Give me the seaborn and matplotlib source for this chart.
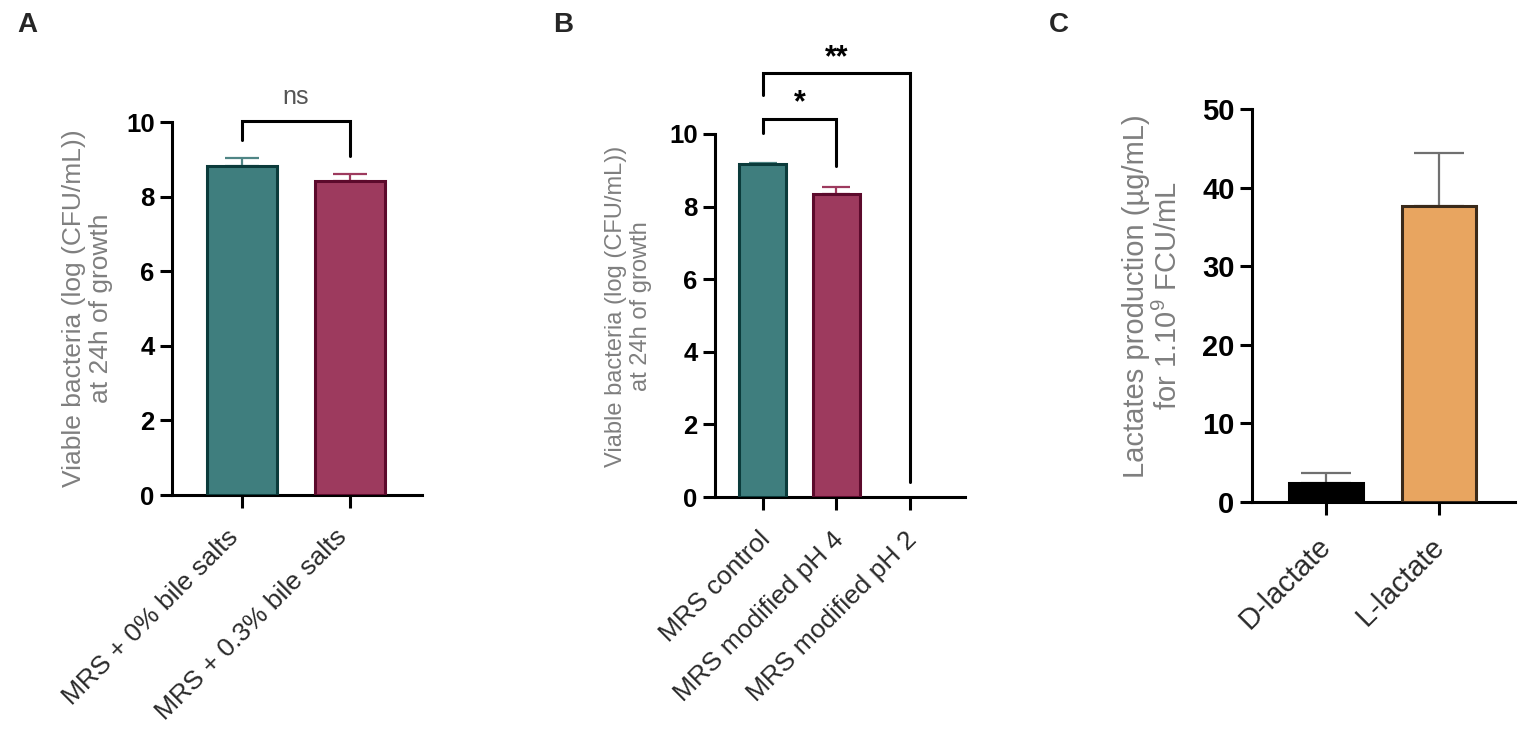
import numpy as np
import matplotlib
matplotlib.use('Agg')
import matplotlib.pyplot as plt
import matplotlib.transforms as mtransforms
import seaborn as sns

# data
a_labels = ['MRS + 0% bile salts', 'MRS + 0.3% bile salts']
a_means = [8.82, 8.43]
a_sd = [0.22, 0.17]

b_labels = ['MRS control', 'MRS modified pH 4', 'MRS modified pH 2']
b_means = [9.17, 8.35, 0.0]
b_sd = [0.03, 0.19, 0.0]

c_labels = ['D-lactate', 'L-lactate']
c_means = [2.4, 37.6]
c_sd = [1.3, 6.8]

teal, teal_edge = '#3f7e7e', '#0b3b3b'
maroon, maroon_edge = '#9d3a5e', '#5c0a2c'
orange, orange_edge = '#e8a560', '#3a2a1a'

sns.set_style('ticks')
plt.rcParams['font.family'] = ['Liberation Sans', 'DejaVu Sans']
plt.rcParams['mathtext.default'] = 'regular'

LW = 2.2
fig = plt.figure(figsize=(15.35, 7.35), dpi=100)


def style_axis(ax, ylabel, yticks, label_xy, tick_fs, label_fs, xtick_fs, dx):
    sns.despine(ax=ax)
    for s in ['left', 'bottom']:
        ax.spines[s].set_linewidth(LW)
        ax.spines[s].set_color('black')
    ax.tick_params(axis='both', length=9, width=LW, color='black', labelcolor='black')
    ax.set_yticks(yticks)
    for t in ax.get_yticklabels():
        t.set_fontsize(tick_fs)
        t.set_fontweight('bold')
    ax.tick_params(axis='x', labelsize=xtick_fs, labelcolor='#2a2a2a', pad=4)
    shift = mtransforms.ScaledTranslation(dx / 100, -12 / 100, fig.dpi_scale_trans)
    for t in ax.get_xticklabels():
        t.set_rotation(45)
        t.set_ha('right')
        t.set_rotation_mode('anchor')
        t.set_transform(t.get_transform() + shift)
    ax.set_xlabel('')
    ax.set_ylabel(ylabel, fontsize=label_fs, color='#7f7f7f', linespacing=1.15)
    ax.yaxis.set_label_coords(*label_xy)


def draw_bars(ax, labels, means, sd, fills, edges, errcols, width, capsize):
    sns.barplot(x=labels, y=means, hue=labels, palette=fills, legend=False,
                saturation=1, width=width, linewidth=LW, ax=ax, zorder=3)
    for p, e, m in zip(ax.patches, edges, means):
        p.set_edgecolor(e)
        if m == 0:
            p.set_linewidth(0)
    for i, (m, s, c) in enumerate(zip(means, sd, errcols)):
        if s > 0:
            ax.errorbar(i, m, yerr=[[0], [s]], color=c, lw=1.6, capsize=capsize,
                        capthick=1.6, zorder=2)


def bracket(ax, x0, x1, top, y0, y1, text, ty, size, weight, color):
    ax.plot([x0, x0, x1, x1], [y0, top, top, y1], color='black', lw=LW,
            clip_on=False, solid_joinstyle='miter')
    ax.text((x0 + x1) / 2, ty, text, ha='center', va='center', fontsize=size,
            fontweight=weight, color=color, clip_on=False)


# Panel A
axA = fig.add_axes([0.1121, 0.3265, 0.1629, 0.5075])
draw_bars(axA, a_labels, a_means, a_sd, [teal, maroon], [teal_edge, maroon_edge],
          ['#4f8585', '#9d3a5e'], 0.65, 12)
axA.set_ylim(0, 10)
axA.set_xlim(-0.648, 1.667)
style_axis(axA, 'Viable bacteria (log (CFU/mL))\nat 24h of growth', [0, 2, 4, 6, 8, 10],
           (-0.235, 0.5), 18.5, 19, 19, -16)
bracket(axA, 0, 1, 10.03, 9.52, 9.09, 'ns', 10.68, 18, 'normal', '#555555')

# Panel B
axB = fig.add_axes([0.4658, 0.3238, 0.1629, 0.4939])
draw_bars(axB, b_labels, b_means, b_sd, [teal, maroon, teal],
          [teal_edge, maroon_edge, teal_edge], ['#4f8585', '#9d3a5e', '#4f8585'], 0.64, 10)
axB.set_ylim(0, 10)
axB.set_xlim(-0.653, 2.75)
style_axis(axB, 'Viable bacteria (log (CFU/mL))\nat 24h of growth', [0, 2, 4, 6, 8, 10],
           (-0.252, 0.526), 18.5, 17, 19, -5)
bracket(axB, 0, 1, 10.41, 10.03, 9.12, '*', 10.85, 22, 'bold', 'black')
bracket(axB, 0, 2, 11.68, 11.07, 0.41, '**', 12.08, 22, 'bold', 'black')

# Panel C
axC = fig.add_axes([0.8156, 0.3170, 0.1713, 0.5347])
draw_bars(axC, c_labels, c_means, c_sd, ['black', orange], ['black', orange_edge],
          ['#707070', '#707070'], 0.66, 18)
axC.set_ylim(0, 50)
axC.set_xlim(-0.655, 1.67)
style_axis(axC, 'Lactates production (µg/mL)\nfor 1.10$^{9}$ FCU/mL', [0, 10, 20, 30, 40, 50],
           (-0.262, 0.524), 21, 21, 21, -9)

# panel letters
for x, letter in [(0.0175, 'A'), (0.367, 'B'), (0.69, 'C')]:
    fig.text(x, 0.966, letter, fontsize=20, fontweight='bold', va='center', ha='center')

fig.savefig('out.png', dpi=100, facecolor='white')
